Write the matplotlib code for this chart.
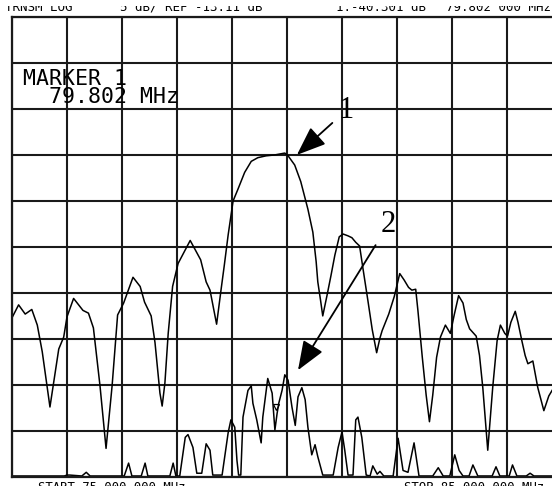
import numpy as np
import matplotlib.pyplot as plt
from matplotlib.transforms import Bbox, TransformedBbox

# Analyzer settings
REF_DB = -13.11      # reference level at top graticule line
DB_PER_DIV = 5
START_MHZ = 75.0
STOP_MHZ = 85.0
MARKER_MHZ = 79.802

# Upper trace (main filter response)
freq_a = [75.00, 75.12, 75.24, 75.36, 75.46, 75.55, 75.69, 75.85, 75.94, 76.00,
          76.12, 76.29, 76.39, 76.48, 76.60, 76.71, 76.82, 76.92, 77.03, 77.20,
          77.33, 77.41, 77.53, 77.60, 77.69, 77.73, 77.78, 77.84, 77.92, 78.02,
          78.24, 78.43, 78.53, 78.60, 78.72, 78.80, 78.86, 78.93, 79.02, 79.11,
          79.23, 79.35, 79.47, 79.62, 79.78, 79.87, 79.96, 80.02, 80.14, 80.25,
          80.38, 80.47, 80.53, 80.56, 80.61, 80.65, 80.73, 80.80, 80.87, 80.95,
          81.02, 81.11, 81.18, 81.25, 81.32, 81.38, 81.47, 81.55, 81.63, 81.69,
          81.73, 81.85, 81.95, 82.05, 82.13, 82.21, 82.27, 82.34, 82.38, 82.46,
          82.53, 82.59, 82.65, 82.72, 82.79, 82.88, 82.97, 83.04, 83.12, 83.20,
          83.26, 83.32, 83.44, 83.50, 83.56, 83.65, 83.74, 83.82, 83.88, 83.96,
          84.01, 84.07, 84.15, 84.20, 84.27, 84.33, 84.38, 84.47, 84.56, 84.67,
          84.76, 84.82, 85.00]
level_a = [-45.8, -44.4, -45.4, -44.9, -46.6, -49.5, -55.5, -49.2, -47.9, -45.7,
           -43.7, -45.0, -45.3, -46.9, -53.2, -60.0, -53.2, -45.5, -44.2, -41.4,
           -42.4, -44.1, -45.6, -48.5, -54.0, -55.4, -52.9, -47.5, -42.4, -39.9,
           -37.4, -39.5, -41.9, -42.8, -46.5, -42.8, -40.1, -36.8, -33.1, -31.8,
           -30.0, -28.8, -28.4, -28.2, -28.1, -28.0, -27.9, -28.2, -29.2, -31.0,
           -34.0, -36.5, -39.7, -41.9, -43.9, -45.6, -43.3, -41.2, -39.0, -37.0,
           -36.7, -36.9, -37.1, -37.6, -38.0, -40.4, -43.9, -47.1, -49.6, -48.0,
           -47.2, -45.4, -43.5, -41.0, -41.7, -42.5, -42.8, -42.7, -45.0, -50.1,
           -54.2, -57.1, -54.2, -50.1, -47.9, -46.6, -47.5, -45.5, -43.4, -44.2,
           -46.0, -47.0, -47.8, -49.9, -53.4, -60.2, -53.4, -48.3, -46.6, -47.5,
           -47.8, -46.3, -45.1, -46.3, -48.3, -49.9, -50.8, -50.5, -53.4, -55.9,
           -54.3, -53.7, -52.0]

# Lower trace (leakage near the noise floor)
freq_b = [75.00, 75.95, 76.00, 76.05, 76.27, 76.35, 76.42, 77.04, 77.12, 77.18,
          77.35, 77.42, 77.47, 77.87, 77.93, 77.98, 78.05, 78.15, 78.20, 78.29,
          78.36, 78.45, 78.53, 78.60, 78.65, 78.82, 78.93, 78.98, 79.05, 79.09,
          79.12, 79.16, 79.20, 79.29, 79.35, 79.38, 79.45, 79.53, 79.56, 79.65,
          79.73, 79.78, 79.82, 79.85, 79.91, 79.96, 80.02, 80.09, 80.15, 80.20,
          80.27, 80.33, 80.38, 80.45, 80.51, 80.56, 80.65, 80.84, 80.93, 81.00,
          81.05, 81.11, 81.20, 81.25, 81.29, 81.36, 81.44, 81.51, 81.56, 81.64,
          81.69, 81.76, 81.93, 82.02, 82.11, 82.20, 82.31, 82.40, 82.65, 82.75,
          82.84, 82.96, 83.05, 83.13, 83.20, 83.31, 83.38, 83.47, 83.73, 83.80,
          83.87, 84.04, 84.10, 84.18, 84.35, 84.42, 84.49, 85.00]
level_b = [-63.0, -63.0, -62.9, -62.9, -63.0, -62.6, -63.0, -63.0, -61.6, -63.0,
           -63.0, -61.6, -63.0, -63.0, -61.6, -63.0, -63.0, -58.8, -58.5, -59.9,
           -62.7, -62.7, -59.5, -60.2, -62.9, -62.9, -58.3, -56.9, -57.7, -61.3,
           -62.9, -62.9, -56.6, -53.7, -53.2, -55.1, -56.9, -59.4, -56.6, -52.4,
           -54.0, -58.0, -56.2, -55.1, -53.7, -52.0, -52.6, -55.5, -57.5, -54.4,
           -53.4, -54.7, -57.7, -60.7, -59.6, -60.9, -62.9, -62.9, -59.9, -58.2,
           -60.2, -62.9, -62.9, -56.9, -56.6, -58.8, -62.9, -63.0, -61.9, -62.8,
           -62.5, -63.0, -63.0, -58.9, -62.4, -62.6, -59.4, -63.0, -63.0, -62.1,
           -63.0, -63.0, -60.7, -62.4, -63.0, -63.0, -61.8, -63.0, -63.0, -62.0,
           -63.0, -63.0, -61.8, -63.0, -63.0, -62.7, -63.0, -63.0]

W, H = 552, 486
mono = 'DejaVu Sans Mono'

fig = plt.figure(figsize=(W / 100, H / 100), dpi=100)
fig.patch.set_facecolor('white')
ax = fig.add_axes([12 / W, 9 / H, 550 / W, 460 / H])

ax.plot(freq_a, level_a, color='k', lw=1.1)
ax.plot(freq_b, level_b, color='k', lw=1.1)

# marker 2 symbol on the lower trace
ax.plot(MARKER_MHZ, np.interp(MARKER_MHZ, freq_b, level_b) + 1.5, marker='v',
        ms=5, mfc='none', mec='k', mew=0.9)

ax.set_xlim(START_MHZ, STOP_MHZ)
ax.set_ylim(REF_DB - 10 * DB_PER_DIV, REF_DB)
ax.set_xticks(np.arange(START_MHZ, STOP_MHZ + 0.5, 1.0))
ax.set_yticks(REF_DB - DB_PER_DIV * np.arange(11))
ax.grid(True, color='#1a1a1a', lw=1.5)
ax.tick_params(length=0, labelbottom=False, labelleft=False)
for sp in ax.spines.values():
    sp.set_linewidth(1.6)
    sp.set_color('#1a1a1a')

# marker readout box
fig.text(23 / W, 1 - 85 / H, "MARKER 1", fontsize=15.5, family=mono, va='baseline')
fig.text(23 / W, 1 - 103 / H, f"  {MARKER_MHZ:.3f} MHz", fontsize=15.5,
         family=mono, va='baseline')

# hand-drawn arrows
arrow = dict(arrowstyle='-|>,head_length=0.9,head_width=0.35',
             mutation_scale=20, lw=1.3, color='k', shrinkA=3, shrinkB=0)
ax.annotate("1", xy=(80.18, -28.1), xytext=(81.07, -23.3), ha='center',
            va='center', fontsize=22, family='Liberation Serif', arrowprops=arrow)
ax.annotate("2", xy=(80.20, -51.5), xytext=(81.84, -35.7), ha='center',
            va='center', fontsize=22, family='Liberation Serif', arrowprops=arrow)

# header line, upper half lost at the paper edge
clip = TransformedBbox(Bbox([[0, 0], [1, 1 - 6.5 / H]]), fig.transFigure)
header = [(5, "TRNSM LOG"),
          (120, f"5 dB/ REF {REF_DB:.2f} dB"),
          (336, "1:-40.301 dB"),
          (446, f"{MARKER_MHZ:.3f} 000 MHz")]
for x, s in header:
    t = fig.text(x / W, 1 - 11 / H, s, fontsize=9, family=mono, va='baseline')
    t.set_clip_box(clip)
    t.set_clip_on(True)

# start / stop annotation along the bottom edge
fig.text(38 / W, -5 / H, f"START {START_MHZ:.3f} 000 MHz", fontsize=8.8,
         family=mono, va='baseline')
fig.text(544 / W, -5 / H, f"STOP {STOP_MHZ:.3f} 000 MHz", fontsize=8.8,
         family=mono, va='baseline', ha='right')

fig.savefig("out.png", dpi=100)
